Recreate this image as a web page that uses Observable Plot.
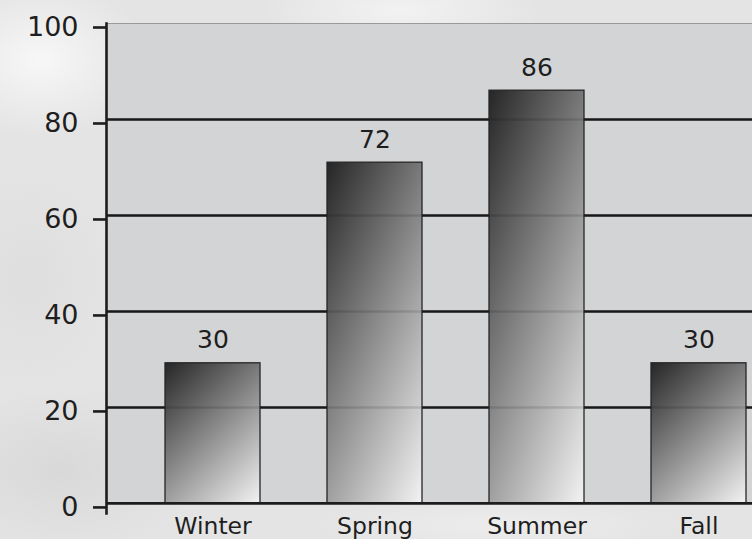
<!DOCTYPE html>
<html>
<head>
<meta charset="utf-8">
<script src="https://cdn.jsdelivr.net/npm/d3@7"></script>
<script src="https://cdn.jsdelivr.net/npm/@observablehq/plot@0.6"></script>
<style>
  html, body { margin: 0; padding: 0; width: 752px; height: 539px; overflow: hidden; }
  body {
    background:
      radial-gradient(ellipse 160px 110px at 40px 60px, rgba(255,255,255,0.7), rgba(255,255,255,0) 70%),
      radial-gradient(ellipse 120px 160px at 30px 280px, rgba(215,215,215,0.45), rgba(215,215,215,0) 70%),
      radial-gradient(ellipse 200px 120px at 60px 470px, rgba(205,205,205,0.5), rgba(205,205,205,0) 70%),
      radial-gradient(ellipse 260px 40px at 500px 525px, rgba(240,240,240,0.7), rgba(240,240,240,0) 70%),
      radial-gradient(ellipse 200px 60px at 400px 10px, rgba(248,248,248,0.7), rgba(248,248,248,0) 70%),
      #e4e4e4;
  }
  #chart { position: absolute; left: 0; top: 0; }
</style>
</head>
<body>
<div id="chart"></div>
<script>
const seasons = ["Winter", "Spring", "Summer", "Fall"];
const values = [29.2, 71, 86, 29.2];
const valueLabels = ["30", "72", "86", "30"];
const yTicks = [0, 20, 40, 60, 80, 100];
const gridValues = [20, 40, 60, 80];

const data = seasons.map((s, i) => ({season: s, value: values[i], label: valueLabels[i]}));

const defs = () => {
  const d = d3.create("svg:defs");
  const g = d.append("linearGradient")
    .attr("id", "barGrad")
    .attr("x1", 0).attr("y1", 0).attr("x2", 0.77).attr("y2", 1.15);
  g.append("stop").attr("offset", 0).attr("stop-color", "#262626");
  g.append("stop").attr("offset", 1).attr("stop-color", "#f2f2f2");
  return d.node();
};

const chart = Plot.plot({
  width: 752,
  height: 539,
  marginTop: 23,
  marginBottom: 26,
  marginLeft: 106,
  marginRight: 0,
  style: {
    background: "transparent",
    overflow: "hidden",
    fontFamily: "'DejaVu Sans', sans-serif",
    color: "#1e1e1e"
  },
  x: {domain: seasons, range: [106, 804], paddingInner: 0.415, paddingOuter: 0.356},
  y: {domain: [-2.1, 100]},
  marks: [
    defs,
    Plot.rect([0], {y1: 0, y2: 100, fill: "#d3d4d6"}),
    Plot.ruleY([100], {stroke: "#9a9a9a", strokeWidth: 1.2}),
    Plot.ruleY(gridValues, {stroke: "#1c1c1c", strokeWidth: 2.6}),
    Plot.barY(data, {x: "season", y: "value", fill: "url(#barGrad)", stroke: "#262626", strokeWidth: 1.3}),
    Plot.ruleY(gridValues, {stroke: "#000", strokeWidth: 2.6, strokeOpacity: 0.12}),
    Plot.ruleY([0], {stroke: "#1c1c1c", strokeWidth: 2.6}),
    Plot.frame({anchor: "left", stroke: "#1c1c1c", strokeWidth: 2.6}),
    Plot.text(data, {x: "season", y: "value", text: "label", dy: -23, fontSize: 25, fill: "#1e1e1e"}),
    Plot.axisY({ticks: yTicks, tickSize: 13, tickPadding: 15, fontSize: 27, strokeWidth: 2.6, stroke: "#1c1c1c", dy: 4, label: null, tickFormat: d => String(d)}),
    Plot.axisX({tickSize: 0, tickPadding: 4, fontSize: 23.5, label: null})
  ]
});
document.getElementById("chart").appendChild(chart);
</script>
</body>
</html>
